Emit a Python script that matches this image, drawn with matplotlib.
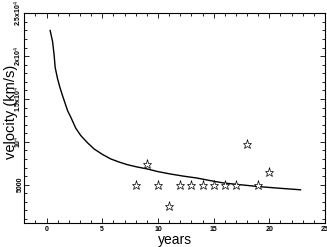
import matplotlib
matplotlib.use('Agg')
import matplotlib.pyplot as plt
from matplotlib.ticker import MultipleLocator

plt.rcParams['font.family'] = ['Liberation Sans', 'DejaVu Sans']

# model curve
curve_t = [0.32, 0.54, 0.68, 0.77, 0.98, 1.2, 1.43, 1.73, 1.9, 2.15, 2.62, 3.07, 3.67,
           4.26, 5.0, 5.76, 6.5, 7.25, 8.1, 9.04, 10.0, 11.13, 12.3, 13.5, 14.7,
           15.9, 17.4, 18.9, 20.8, 22.8]
curve_v = [23000, 21700, 20100, 18700, 17400, 16350, 15400, 14250, 13600, 12950,
           11600, 10740, 9900, 9180, 8550, 8010, 7650, 7340, 7080, 6840, 6530,
           6250, 6000, 5780, 5480, 5200, 5000, 4800, 4600, 4410]

# observed points (stars)
obs_t = [8, 9, 10, 11, 12, 13, 14, 15, 16, 17, 18, 19, 20]
obs_v = [5000, 7400, 5000, 2500, 5000, 5000, 5000, 5000, 5000, 5000, 9800, 5000, 6500]

ytick_vals = [5000, 10000, 15000, 20000, 25000]
ytick_labels = ['5000', '10$^4$', '1.5x10$^4$', '2x10$^4$', '2.5x10$^4$']
xtick_vals = [0, 5, 10, 15, 20, 25]

fig = plt.figure(figsize=(3.27, 2.47), dpi=100)
ax = fig.add_axes([0.0743, 0.096, 0.9197, 0.85])

ax.plot(curve_t, curve_v, color='black', linewidth=1.0)
ax.plot(obs_t, obs_v, linestyle='none', marker='*', markersize=6.5,
        markerfacecolor='white', markeredgecolor='black', markeredgewidth=0.5)

ax.set_xlim(-2, 25)
ax.set_ylim(500, 25000)
ax.set_xticks(xtick_vals)
ax.set_xticklabels([str(v) for v in xtick_vals], fontsize=5, fontweight='bold')
ax.set_yticks(ytick_vals)
ax.set_yticklabels(ytick_labels, fontsize=5, fontweight='bold', rotation=90, va='center')
ax.xaxis.set_minor_locator(MultipleLocator(1))
ax.yaxis.set_minor_locator(MultipleLocator(1000))
ax.tick_params(which='both', direction='in', top=True, right=True, width=0.6)
ax.tick_params(which='major', length=3.5, pad=2)
ax.tick_params(axis='y', which='major', pad=0.5)
ax.tick_params(which='minor', length=2)
for s in ax.spines.values():
    s.set_linewidth(0.8)

ax.set_xlabel('years', fontsize=10, labelpad=0)
ax.set_ylabel('velocity (km/s)', fontsize=10.5)
ax.yaxis.set_label_coords(-0.022, 0.53)

plt.savefig('out.png', dpi=100)
plt.close()
